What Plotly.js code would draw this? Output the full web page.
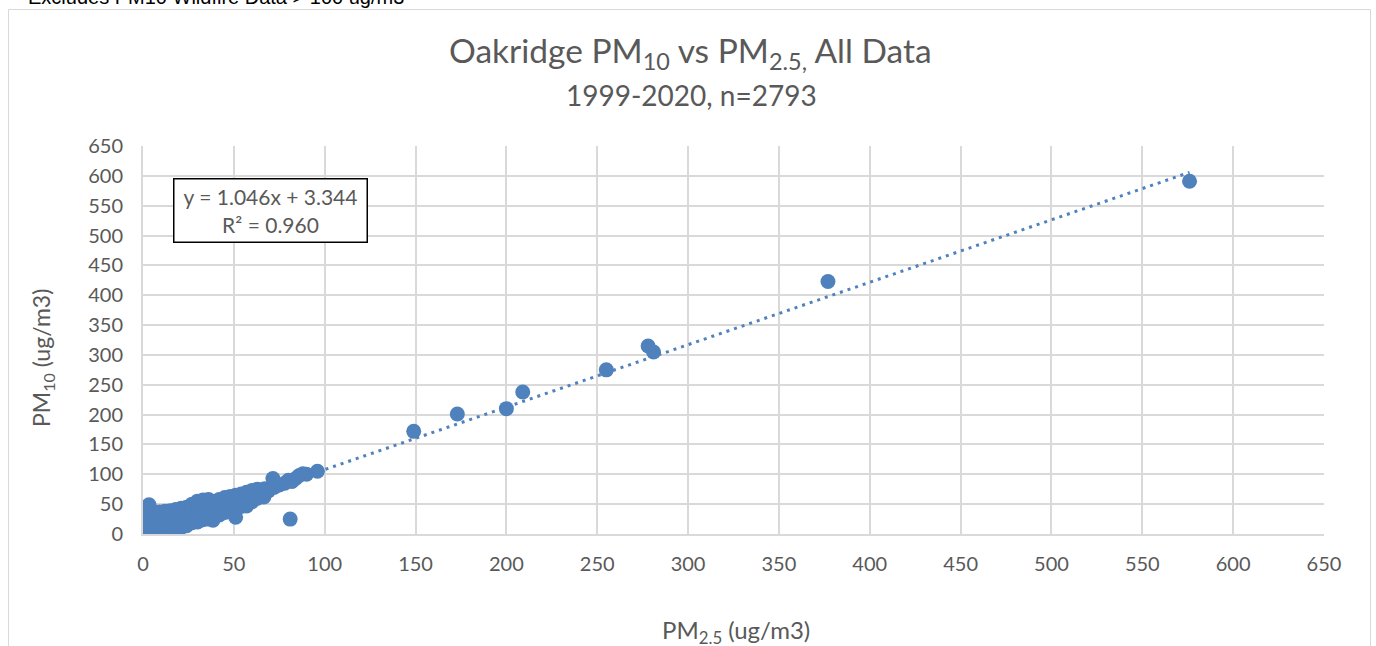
<!DOCTYPE html>
<html>
<head>
<meta charset="utf-8">
<script src="https://cdn.plot.ly/plotly-3.0.1.min.js"></script>
<style>
html,body{margin:0;padding:0;background:#fff;overflow:hidden;}
#chart{width:1376px;height:646px;}
</style>
</head>
<body>
<div id="chart"></div>
<script>
// PM2.5 (x) and PM10 (y) daily values, ug/m3
const pm25 = [
  0.5,0.5,1,1.5,3,3,3,3,3.3,6,6,6,6,9,9,9,9,12,12,12,12,15,15,15,15,
  18,18,18,18,21,21,21,21,24,24,24,24,27,27,27,27,30,30,30,30,
  33,33,33,33,36,36,36,36,38.5,39,39,39,42,42,42,45,45,45,
  48,48,48,51,51,51,51,54,54,54,57,57,57,60,60,60,
  63,63,63,66.5,66,67,69,71.5,72,73,75,
  78,80,81,82,84,86,88,90,96,
  149,173,200,209,255,278,281,377,576
];
const pm10 = [
  1,12,24,36,2,14,26,38,49,1,12,24,36,1,13,25,37,2,14,26,38,3,15,27,39,
  8,20,32,41,11,23,35,43,14,26,38,45,19,30,42,50,20,32,44,55,
  24,36,48,57,25,38,50,58,23,30,42,54,32,44,58,36,48,61,
  40,52,63,28,44,56,65,46,57,67,47,60,70,54,64,73,
  60,70,75,62,68,76,72,93,78,80,82,
  85,90,25,88,93,98,101,100,105,
  172,201,210,238,275,315,305,423,591
];
const trendSlope = 1.046;
const trendIntercept = 3.344;
const trendR2 = 0.960;
const tickVals = [0,50,100,150,200,250,300,350,400,450,500,550,600,650];

const titleText = "Oakridge PM<sub>10</sub> vs PM<sub>2.5,</sub> All Data";
const subtitleText = "1999-2020, n=2793";
const xTitle = "PM<sub>2.5</sub> (ug/m3)";
const yTitle = "PM<sub>10</sub> (ug/m3)";
const noteText = "Excludes PM10 Wildfire Data > 100 ug/m3";

const xMin = Math.min(...pm25), xMax = Math.max(...pm25);
const trendX = [xMin, xMax];
const trendY = trendX.map(v => trendSlope * v + trendIntercept);

const blue = "#4F81BD";
const gray = "#595959";
const FONT = "Lato, 'Open Sans', sans-serif";

const traces = [
  {
    x: pm25, y: pm10, type: "scatter", mode: "markers",
    marker: {color: blue, size: 15, line: {width: 0}},
    hoverinfo: "x+y", showlegend: false
  },
  {
    x: trendX, y: trendY, type: "scatter", mode: "lines",
    line: {color: blue, width: 3, dash: "3px,5px"},
    hoverinfo: "skip", showlegend: false
  }
];

const L = 143, R = 52, T = 146, B = 112, W = 1376, H = 646;
const pw = W - L - R, ph = H - T - B;
const px = v => (v - L) / pw;
const py = v => (H - B - v) / ph;

const layout = {
  width: W, height: H,
  margin: {l: L, r: R, t: T, b: B, pad: 0},
  paper_bgcolor: "#ffffff", plot_bgcolor: "#ffffff",
  font: {family: FONT, color: gray, size: 18},
  showlegend: false,
  xaxis: {
    range: [0, 650], tickvals: tickVals, ticks: "", showline: true,
    linecolor: "#D9D9D9", linewidth: 2, gridcolor: "#D9D9D9", gridwidth: 2,
    zeroline: false, tickfont: {family: FONT, size: 20, color: gray},
    ticklabelstandoff: 11, fixedrange: true
  },
  yaxis: {
    range: [0, 650], tickvals: tickVals, ticks: "", showline: true,
    linecolor: "#D9D9D9", linewidth: 2, gridcolor: "#D9D9D9", gridwidth: 2,
    zeroline: false, tickfont: {family: FONT, size: 20, color: gray},
    ticklabelstandoff: 14, fixedrange: true
  },
  shapes: [
    {type: "rect", xref: "paper", yref: "paper",
     x0: px(8.5), x1: px(1370.5), y0: py(700), y1: py(9.5),
     line: {color: "#D9D9D9", width: 1}, fillcolor: "rgba(0,0,0,0)", layer: "below"}
  ],
  annotations: [
    {text: noteText, xref: "paper", yref: "paper", x: px(26), y: py(10), xanchor: "left", yanchor: "bottom",
     showarrow: false, font: {family: "Liberation Sans, Arial, sans-serif", size: 20, color: "#000"}},
    {text: titleText, xref: "paper", yref: "paper", x: px(690), y: py(53), xanchor: "center", yanchor: "middle",
     showarrow: false, font: {family: FONT, size: 33.5, color: gray}},
    {text: subtitleText, xref: "paper", yref: "paper", x: px(691), y: py(95), xanchor: "center", yanchor: "middle",
     showarrow: false, font: {family: FONT, size: 28, color: gray}},
    {text: yTitle, xref: "paper", yref: "paper", x: px(42), y: py(358), xanchor: "center", yanchor: "middle",
     textangle: -90, showarrow: false, font: {family: FONT, size: 23, color: gray}},
    {text: xTitle, xref: "paper", yref: "paper", x: px(736), y: py(631), xanchor: "center", yanchor: "middle",
     showarrow: false, font: {family: FONT, size: 24, color: gray}},
    {text: "y = " + trendSlope.toFixed(3) + "x + " + trendIntercept.toFixed(3) + "<br>R² = " + trendR2.toFixed(3),
     xref: "paper", yref: "paper", x: px(270), y: py(210.5), xanchor: "center", yanchor: "middle",
     showarrow: false, width: 188, height: 58, bgcolor: "#fff", bordercolor: "#000", borderwidth: 1.5,
     borderpad: 2, font: {family: FONT, size: 21, color: gray}}
  ]
};

Plotly.newPlot("chart", traces, layout, {displayModeBar: false, staticPlot: true});
</script>
</body>
</html>
